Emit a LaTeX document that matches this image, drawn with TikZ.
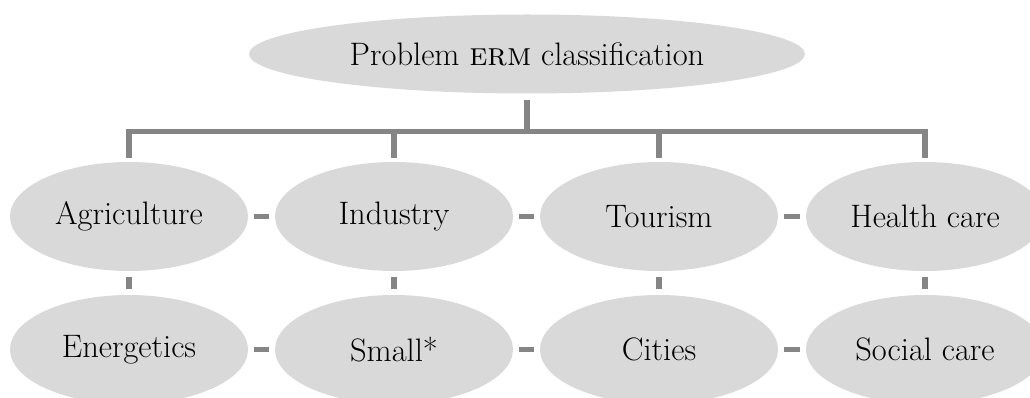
\documentclass[tikz,border=0pt]{standalone}
\usepackage{fontspec}
\usetikzlibrary{shapes.geometric}
\definecolor{ellfill}{HTML}{D9D9D9}
\definecolor{conngray}{HTML}{858585}
\tikzset{
  oval/.style={ellipse, fill=ellfill, draw=none, inner sep=0pt,
    minimum width=238pt, minimum height=109pt,
    font=\fontsize{32.5}{38}\selectfont, text=black},
  topoval/.style={oval, minimum width=556pt, minimum height=79pt},
  conn/.style={draw=conngray, line width=5.5pt},
  dashc/.style={conn, shorten <=5.5pt, shorten >=5.5pt}
}
\begin{document}
\begin{tikzpicture}[x=1pt,y=1pt]
\useasboundingbox (0,0) rectangle (1030,-398);
\clip (0,0) rectangle (1030,-398);
\node[topoval] (top) at (527,-54) {Problem \textsc{erm} classification};
\node[oval] (agri)   at (129,-216.5) {Agriculture};
\node[oval] (ind)    at (394,-216.5) {Industry};
\node[oval] (tour)   at (659,-216.5) {Tourism};
\node[oval] (health) at (925,-216.5) {Health care};
\node[oval] (ener)   at (129,-349.5) {Energetics};
\node[oval] (small)  at (394,-349.5) {Small*};
\node[oval] (cities) at (659,-349.5) {Cities};
\node[oval] (social) at (925,-349.5) {Social care};
% tree connectors
\coordinate (bar) at (527,-131.5);
\draw[conn] ([yshift=-6pt]top.south) -- (bar);
\draw[conn, line join=miter] ([yshift=4pt]agri.north) -- ([yshift=30.5pt]agri.north)
  -- ([yshift=30.5pt]health.north) -- ([yshift=4pt]health.north);
\draw[conn] ([yshift=4pt]ind.north) -- ([yshift=30.5pt]ind.north);
\draw[conn] ([yshift=4pt]tour.north) -- ([yshift=30.5pt]tour.north);
% row links
\draw[dashc] (agri) -- (ind);
\draw[dashc] (ind) -- (tour);
\draw[dashc] (tour) -- (health);
\draw[dashc] (ener) -- (small);
\draw[dashc] (small) -- (cities);
\draw[dashc] (cities) -- (social);
\draw[dashc] (agri) -- (ener);
\draw[dashc] (ind) -- (small);
\draw[dashc] (tour) -- (cities);
\draw[dashc] (health) -- (social);
\end{tikzpicture}
\end{document}
